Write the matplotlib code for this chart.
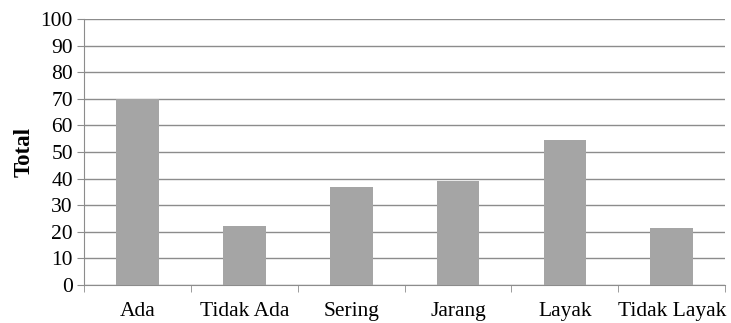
import matplotlib
matplotlib.use("Agg")
import matplotlib.pyplot as plt
import numpy as np

categories = ["Ada", "Tidak Ada", "Sering", "Jarang", "Layak", "Tidak Layak"]
totals = [70, 22.3, 36.8, 39.2, 54.5, 21.5]

plt.rcParams['font.family'] = ['Liberation Serif', 'DejaVu Serif']

fig = plt.figure(figsize=(7.31, 3.23), dpi=100)
ax = fig.add_axes([0.115, 0.118, 0.877, 0.823])

x = np.arange(len(categories))
ax.bar(x, totals, width=0.4, color='#a5a5a5', zorder=3)

ax.set_xlim(-0.5, len(categories) - 0.5)
ax.set_ylim(0, 100)
ax.set_yticks(np.arange(0, 101, 10))
ax.yaxis.grid(True, color='#8c8c8c', linewidth=1.0, zorder=0)

# category labels centred, tick marks on the category boundaries
ax.set_xticks(x)
ax.set_xticklabels(categories)
ax.set_xticks(np.arange(-0.5, len(categories), 1), minor=True)
ax.tick_params(axis='x', which='major', length=0, pad=12, labelsize=15.5)
ax.tick_params(axis='x', which='minor', length=5, color='#8c8c8c', direction='out')
ax.tick_params(axis='y', length=5, color='#8c8c8c', direction='out', pad=3, labelsize=15.5)

for side in ['top', 'right']:
    ax.spines[side].set_visible(False)
for side in ['left', 'bottom']:
    ax.spines[side].set_color('#8c8c8c')

ax.set_ylabel('Total', fontsize=16.5, fontweight='bold', labelpad=4)

fig.savefig('out.png', dpi=100)
